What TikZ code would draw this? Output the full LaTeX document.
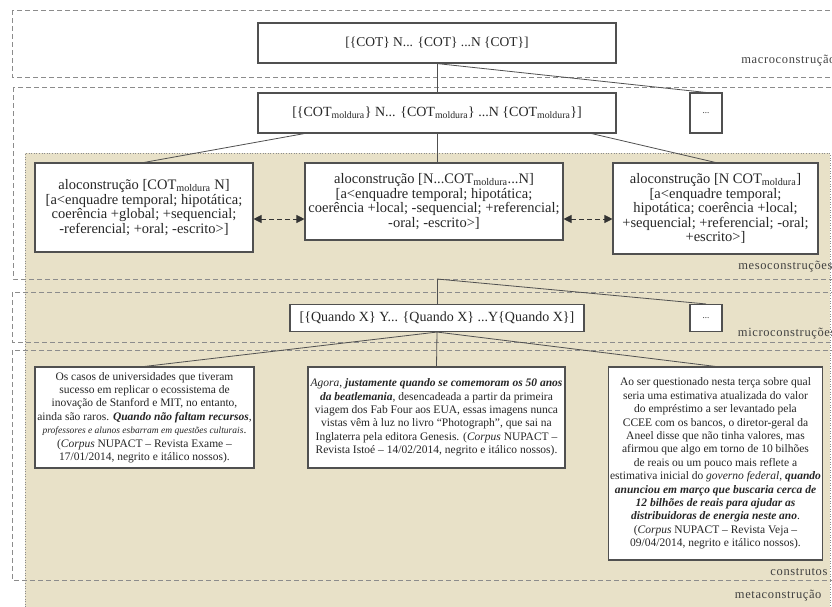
\documentclass[tikz,border=0pt]{standalone}
\usepackage{fontspec}
\setmainfont{Liberation Serif}
\newfontfamily\fonterotulo[LetterSpace=5]{Liberation Serif}
\usetikzlibrary{arrows.meta,positioning,calc}
\definecolor{fundo}{RGB}{232,225,200}
\definecolor{linha}{RGB}{80,80,80}
\definecolor{tracejado}{RGB}{140,140,140}
\newcommand{\mold}{\textsubscript{moldura}}
\tikzset{
  caixa/.style={draw=linha, line width=1.1pt, fill=white, align=center, inner sep=2pt, text=black!85},
  alo/.style={caixa, font=\fontsize{14.5}{14.5}\selectfont},
  exemplo/.style={caixa, font=\fontsize{11.5}{13.4}\selectfont},
  nivel/.style={draw=tracejado, line width=0.7pt, dash pattern=on 5pt off 3pt},
  rotulo/.style={anchor=east, text=black!75, font=\fonterotulo\fontsize{12.5}{14}\selectfont},
  ramo/.style={draw=linha, line width=0.8pt},
  duplo/.style={draw=black!80, line width=0.8pt, dash pattern=on 5pt off 3pt,
    {Triangle[length=8pt,width=8pt]}-{Triangle[length=8pt,width=8pt]}},
}
\begin{document}
\begin{tikzpicture}[x=1pt,y=-1pt]
	\useasboundingbox (0,0) rectangle (832,606);
	% fundo das construcoes
	\fill[fundo] (25,153) rectangle (830,620);
	\draw[tracejado, dotted, line width=0.6pt] (25,620) -- (25,153) -- (830,153) -- (830,620);
	% niveis
	\draw[nivel] (12,10) rectangle (850,77);
	\draw[nivel] (13,87) rectangle (850,279);
	\draw[nivel] (12,292) rectangle (850,342);
	\draw[nivel] (12,350) rectangle (850,580);
	\node[rotulo] (lmacro) at (839,61) {macroconstrução};
	\node[rotulo] (lmeso) at (836,267) {mesoconstruções};
	\node[rotulo] (lmicro) at (839,334) {microconstruções};
	\node[rotulo] (lconstr) at (831,572) {construtos};
	\node[rotulo] (lmeta) at (825,596) {metaconstrução};
	% macro e meso
	\node[caixa, minimum width=358pt, minimum height=40pt, font=\fontsize{13.5}{15}\selectfont] (macro) at (437,43) {[\{COT\} N... \{COT\} ...N \{COT\}]};
	\node[caixa, minimum width=358pt, minimum height=40pt, font=\fontsize{14}{15}\selectfont] (cotmold) at (437,113) {[\{COT\mold\} N... \{COT\mold\} ...N \{COT\mold\}]};
	\node[caixa, minimum width=32pt, minimum height=40pt, font=\small] (reticmacro) at (706,113) {...};
	\node[alo, minimum width=218pt, minimum height=89pt] (aloesq) at (144,207.5) {aloconstrução [COT\mold{} N]\\{}[a<enquadre temporal; hipotática;\\ coerência +global; +sequencial;\\ -referencial; +oral; -escrito>]};
	\node[alo, minimum width=258pt, minimum height=77pt] (alomeio) at (434,201.5) {aloconstrução [N...COT\mold...N]\\{}[a<enquadre temporal; hipotática;\\ coerência +local; -sequencial; +referencial;\\ -oral; -escrito>]};
	\node[alo, minimum width=205pt, minimum height=91pt] (alodir) at (715.5,208.5) {aloconstrução [N COT\mold]\\{}[a<enquadre temporal;\\ hipotática; coerência +local;\\ +sequencial; +referencial; -oral;\\ +escrito>]};
	% micro
	\node[caixa, minimum width=294pt, minimum height=27pt, font=\fontsize{14}{15}\selectfont] (quando) at (437,318) {[\{Quando X\} Y... \{Quando X\} ...Y\{Quando X\}]};
	\node[caixa, minimum width=32pt, minimum height=27pt, font=\small] (reticmicro) at (706,318) {...};
	% construtos
	\node[exemplo, minimum width=219pt, minimum height=101pt] (exesq) at (144.5,417.5) {Os casos de universidades que tiveram\\ sucesso em replicar o ecossistema de\\ inovação de Stanford e MIT, no entanto,\\ ainda são raros. \textbf{\textit{Quando não faltam recursos}},\\ {\fontsize{9.5}{13.4}\selectfont\itshape professores e alunos esbarram em questões culturais}.\\ (\textit{Corpus} NUPACT – Revista Exame –\\ 17/01/2014, negrito e itálico nossos).};
	\node[exemplo, minimum width=257pt, minimum height=101pt] (exmeio) at (436.5,417.5) {\textit{Agora}, \textbf{\textit{justamente quando se comemoram os 50 anos}}\\ \textbf{\textit{da beatlemania}}, desencadeada a partir da primeira\\ viagem dos Fab Four aos EUA, essas imagens nunca\\ vistas vêm à luz no livro “Photograph”, que sai na\\ Inglaterra pela editora Genesis. (\textit{Corpus} NUPACT –\\ Revista Istoé – 14/02/2014, negrito e itálico nossos).};
	\node[exemplo, minimum width=205pt, minimum height=193pt] (exdir) at (715.5,463.5) {Ao ser questionado nesta terça sobre qual\\ seria uma estimativa atualizada do valor\\ do empréstimo a ser levantado pela\\ CCEE com os bancos, o diretor-geral da\\ Aneel disse que não tinha valores, mas\\ afirmou que algo em torno de 10 bilhões\\ de reais ou um pouco mais reflete a\\ estimativa inicial do \textit{governo federal}, \textbf{\textit{quando}}\\ \textbf{\textit{anunciou em março que buscaria cerca de}}\\ \textbf{\textit{12 bilhões de reais para ajudar as}}\\ \textbf{\textit{distribuidoras de energia neste ano}}.\\ (\textit{Corpus} NUPACT – Revista Veja –\\ 09/04/2014, negrito e itálico nossos).};
	% ramos
	\draw[ramo] (macro.south) -- (cotmold.north);
	\draw[ramo] (macro.south) -- (reticmacro.north);
	\draw[ramo] ($(cotmold.south west)+(47,0)$) -- (aloesq.north);
	\draw[ramo] (cotmold.south) -- (cotmold.south |- alomeio.north);
	\draw[ramo] ($(cotmold.south east)+(-25,0)$) -- (alodir.north);
	\coordinate (saidameso) at (437,279);
	\draw[ramo] (saidameso) -- (quando.north);
	\draw[ramo] (saidameso) -- (reticmicro.north);
	\draw[ramo] (quando.south) -- (exesq.north);
	\draw[ramo] (quando.south) -- (exmeio.north);
	\draw[ramo] (quando.south) -- (exdir.north);
	\coordinate (setas) at (0,219);
	\draw[duplo] (aloesq.east |- setas) -- (alomeio.west |- setas);
	\draw[duplo] (alomeio.east |- setas) -- (alodir.west |- setas);
\end{tikzpicture}
\end{document}
